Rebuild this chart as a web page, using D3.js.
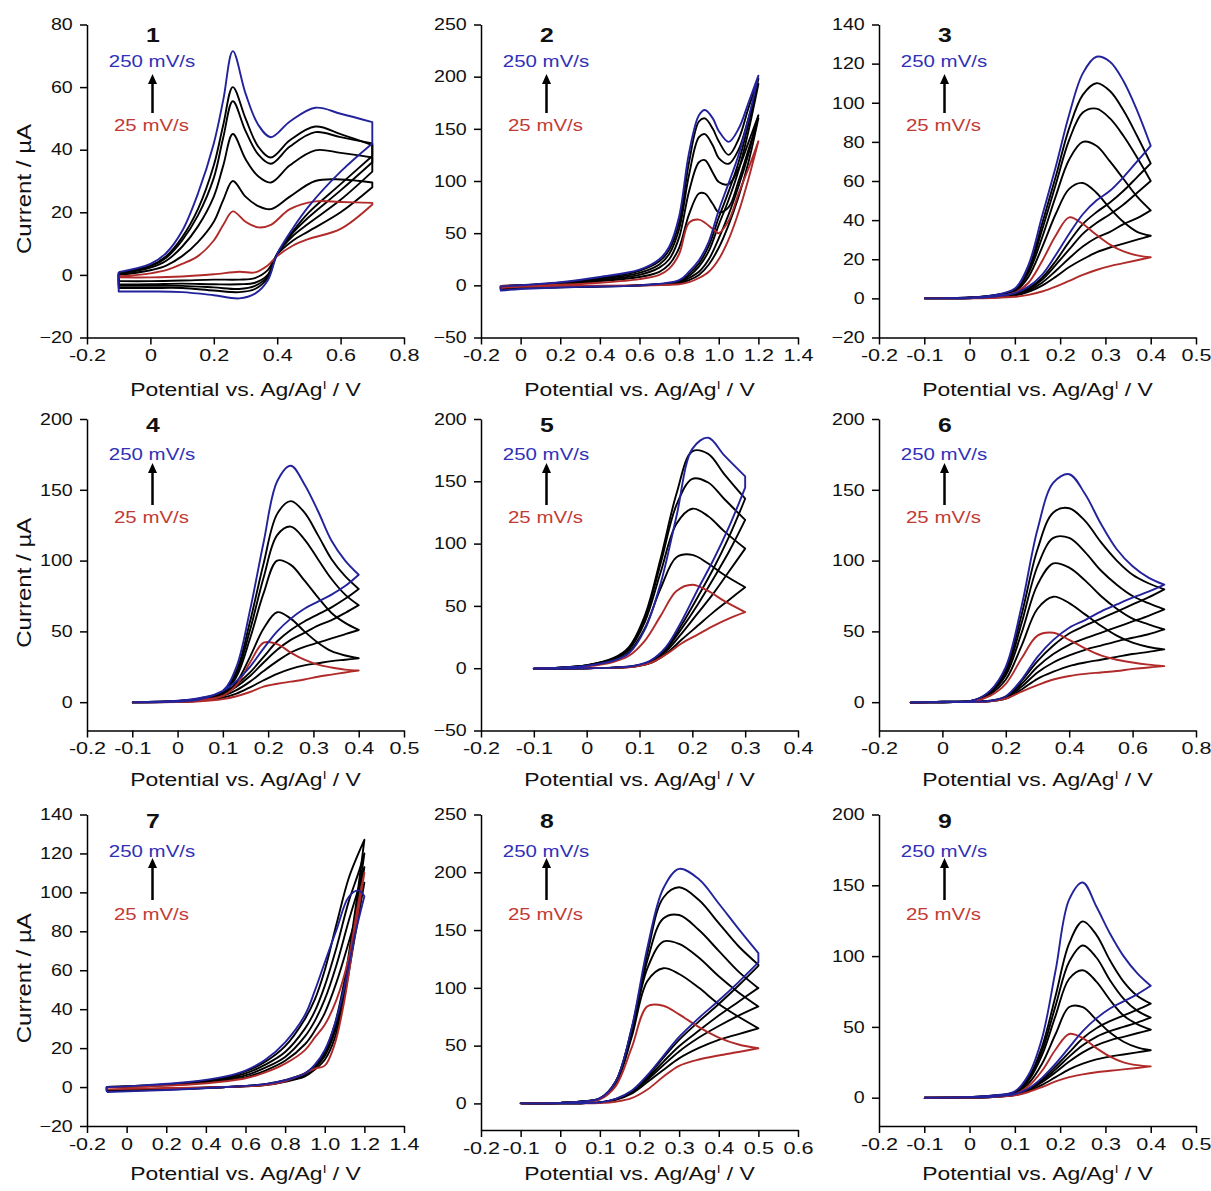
<!DOCTYPE html>
<html>
<head>
<meta charset="utf-8">
<script src="https://cdn.jsdelivr.net/npm/d3@7"></script>
<style>
  body { margin: 0; background: #fff; }
  svg { display: block; }
  text { font-family: "Liberation Sans", Arial, sans-serif; }
</style>
</head>
<body>
<svg id="chart" width="1211" height="1191"></svg>
<script>
// Scan rates (mV/s) - row order of every current table below
const rates = [25, 50, 100, 150, 200, 250];

// Panel 1 - forward / reverse potentials (V) and currents (uA)
const p1Fx = [-0.1, 0, 0.05, 0.1, 0.15, 0.2, 0.23, 0.26, 0.3, 0.34, 0.38, 0.44, 0.52, 0.6, 0.7];
const p1Fwd = [
    [-0.5, 0.5, 1.5, 3.5, 6, 11, 16, 20.3, 17, 15.2, 16, 21, 23.5, 23.3, 23],
    [0, 1.5, 3, 6, 10.5, 17, 24, 30, 25, 22, 21, 25, 30, 30.5, 29.5],
    [0.3, 2.3, 4.5, 9, 15.5, 25, 35, 45, 37, 31.5, 29.5, 35, 39.8, 39, 37.5],
    [0.5, 2.7, 5.5, 11, 19, 31, 44, 55.5, 46, 38.5, 35.5, 41, 45.6, 44, 42],
    [0.7, 3, 6, 12, 21, 35, 48, 60, 50, 41, 37.5, 43, 47.4, 45, 41.5],
    [0.9, 3.5, 7, 14, 26, 42, 56, 71.5, 58, 48, 44, 49, 53.4, 51.5, 48.8]
];
const p1Rx = [0.7, 0.6, 0.5, 0.45, 0.4, 0.37, 0.33, 0.28, 0.2, 0.1, 0, -0.1];
const p1Rev = [
    [22.5, 14.7, 11.5, 9.4, 6, 3, 0.8, 1.0, 0.2, -0.5, -0.8, -0.8],
    [28, 20, 14, 11, 6.5, 1.5, -1, -1.5, -1.5, -1.8, -2, -2],
    [33, 24, 16.5, 12.5, 6.7, 0, -2.5, -3, -3, -2.8, -3, -3],
    [36, 27, 18.5, 13.5, 6.7, -0.5, -3.5, -4.5, -4, -3.5, -3.5, -3.5],
    [38, 29, 20, 14, 6.7, -1, -4.5, -5.5, -5, -4.2, -4.2, -4.2],
    [42, 33, 22, 15, 6.7, -1.8, -6, -7.5, -6.5, -5.5, -5.3, -5.3]
];

// Panel 2
const p2Fx = [-0.1, 0.2, 0.4, 0.6, 0.7, 0.75, 0.8, 0.85, 0.9, 0.93, 0.97, 1.0, 1.05, 1.1, 1.15, 1.2];
const p2Fwd = [
    [-0.5, 0.5, 2.5, 6, 10, 16, 30, 60, 63, 60, 54, 50, 62, 88, 112, 138],
    [-0.5, 1, 4, 8, 13, 20, 36, 68, 88, 88, 78, 70, 75, 100, 130, 160],
    [-0.5, 1.5, 5, 10, 17, 25, 46, 90, 118, 120, 108, 99, 97, 112, 137, 163],
    [-1, 2, 6, 12, 20, 30, 54, 106, 142, 145, 134, 122, 116.5, 130, 160, 193],
    [-1, 2.5, 7, 14, 23, 34, 60, 118, 157, 160, 150, 138, 125, 140, 170, 198],
    [-1, 3, 8, 15, 25, 37, 66, 127, 163, 168, 160, 148, 137.5, 150, 175, 201]
];
const p2Rx = [1.2, 1.15, 1.1, 1.05, 1.0, 0.95, 0.9, 0.85, 0.8, 0.6, 0.3, 0, -0.1];
const p2Rev = [
    [138, 102, 70, 44, 25, 13, 7, 3, 1, 0, -0.5, -1.5, -2.5],
    [160, 118, 85, 58, 36, 20, 10, 5, 2, 0, -1, -2, -3],
    [163, 126, 95, 68, 45, 25, 13, 7, 2.5, 0, -1, -2.3, -3.5],
    [193, 148, 110, 82, 58, 33, 18, 9, 3.5, 0, -1.2, -2.7, -4],
    [198, 155, 118, 90, 65, 38, 21, 11, 4, 0, -1.5, -3, -4.5],
    [201, 160, 125, 98, 72, 42, 24, 13, 5, 0, -1.5, -3.5, -5]
];

// Panel 3
const p3Fx = [-0.1, 0, 0.05, 0.1, 0.13, 0.16, 0.19, 0.22, 0.25, 0.28, 0.31, 0.34, 0.37, 0.4];
const p3Fwd = [
    [0, 0.3, 1, 3, 8, 19, 32, 41.4, 38, 32.5, 27.5, 24, 22, 21],
    [0, 0.4, 1.2, 3.5, 11, 26, 43, 56, 59, 54, 46, 39, 34, 32],
    [0, 0.4, 1.3, 4, 13, 31, 52, 71, 80, 78, 70, 61, 52, 45],
    [0, 0.5, 1.4, 4.2, 14, 35, 58, 81, 95, 97, 92, 83, 72, 60],
    [0, 0.5, 1.5, 4.5, 15, 38, 62, 87, 104, 110, 106, 96, 83, 69],
    [0, 0.5, 1.5, 5, 17, 42, 67, 94, 115, 123.5, 121, 111, 96, 78]
];
const p3Rx = [0.4, 0.37, 0.34, 0.31, 0.28, 0.25, 0.22, 0.19, 0.16, 0.13, 0.1, 0.05, 0, -0.1];
const p3Rev = [
    [21, 19.5, 18, 16.5, 14.5, 12, 9, 6, 3.5, 1.8, 0.8, 0.2, 0, 0],
    [32, 30, 28, 26, 23.5, 20, 16, 11, 6.5, 3.3, 1.5, 0.4, 0.1, 0],
    [45, 41, 38, 34, 31, 26.5, 20.5, 14, 8, 4, 1.8, 0.5, 0.1, 0],
    [60, 54, 48, 43, 38.5, 33, 25, 17, 9.5, 4.7, 2.1, 0.6, 0.2, 0],
    [69, 62, 55, 49, 44, 38, 29, 19, 10.5, 5.2, 2.4, 0.7, 0.2, 0],
    [78, 70, 62, 55, 50, 43, 33, 22, 12, 6, 2.7, 0.8, 0.2, 0]
];

// Panel 4
const p4Fx = [-0.1, 0, 0.05, 0.1, 0.13, 0.16, 0.19, 0.22, 0.25, 0.28, 0.31, 0.34, 0.37, 0.4];
const p4Fwd = [
    [0, 0.5, 1.5, 4.5, 12, 28, 42, 41, 35, 30, 26.5, 24.5, 23, 22.4],
    [0, 0.6, 2, 5.5, 14, 32, 52, 63.5, 59, 50, 42, 36, 33, 31],
    [0, 0.7, 2.3, 6.5, 18, 45, 77, 100, 97, 86, 74, 63, 56, 51],
    [0, 0.8, 2.5, 7, 20, 51, 88, 118, 124, 115, 101, 87, 76, 68.5],
    [0, 0.8, 2.7, 7.5, 22, 57, 98, 133, 142, 134, 118, 101, 89, 80],
    [0, 1, 3, 8, 25, 65, 113, 156, 167, 154, 135, 114, 100, 90]
];
const p4Rx = [0.4, 0.37, 0.34, 0.31, 0.28, 0.25, 0.22, 0.19, 0.16, 0.13, 0.1, 0.05, 0, -0.1];
const p4Rev = [
    [22.4, 21, 19.5, 18, 16, 14.5, 13, 11, 7.2, 4.2, 2.2, 0.6, 0.1, 0],
    [31, 30, 29, 27.5, 26, 23.5, 20, 15.5, 10.5, 6, 3.2, 0.9, 0.2, 0],
    [51, 48, 45, 42, 39, 35, 29, 22, 14.5, 8.5, 4.5, 1.2, 0.3, 0],
    [68.5, 63, 58, 54, 49, 44, 37, 28, 18.5, 11, 5.7, 1.5, 0.4, 0],
    [80, 73, 67, 62, 57, 51, 43, 32, 21, 12.5, 6.5, 1.7, 0.4, 0],
    [90, 82, 76, 71, 66, 59, 50, 38, 25, 15, 8, 2, 0.5, 0]
];

// Panel 5
const p5Fx = [-0.1, -0.05, 0, 0.05, 0.08, 0.11, 0.14, 0.17, 0.2, 0.23, 0.26, 0.3];
const p5Fwd = [
    [0, 0.3, 1.5, 5, 10, 22, 42, 62, 67, 62, 54, 45],
    [0, 0.4, 2, 6, 13, 32, 64, 89, 91, 84, 75, 65],
    [0, 0.5, 2.2, 7, 15, 37, 77, 116, 128, 122, 110, 96],
    [0, 0.5, 2.3, 7.5, 16, 40, 84, 131, 152, 149, 136, 119],
    [0, 0.5, 2.5, 8, 17, 42, 88, 140, 174, 172, 156, 136],
    [0, 0.5, 2, 6, 12, 31, 68, 122, 176, 185, 171, 154]
];
const p5Rx = [0.3, 0.27, 0.24, 0.21, 0.18, 0.15, 0.12, 0.09, 0.05, 0, -0.1];
const p5Rev = [
    [45, 40, 34, 27, 20, 11, 4, 1.2, 0.3, 0, -0.3],
    [65, 55, 45, 34, 23, 11.5, 4, 1.3, 0.3, 0, -0.4],
    [96, 78, 60, 44, 28, 13.5, 4.5, 1.5, 0.4, 0, -0.5],
    [119, 94, 72, 51, 32, 15, 5, 1.7, 0.5, 0, -0.5],
    [136, 106, 80, 57, 35, 16, 5.5, 1.8, 0.5, 0, -0.5],
    [145, 114, 87, 63, 38, 17, 6, 2, 0.5, 0, -0.5]
];

// Panel 6
const p6Fx = [-0.1, 0, 0.1, 0.15, 0.2, 0.25, 0.3, 0.35, 0.4, 0.45, 0.5, 0.55, 0.6, 0.65, 0.7];
const p6Fwd = [
    [0, 0.2, 0.8, 4.5, 13, 31, 47, 49, 44, 38, 33, 30, 28, 26.5, 25.5],
    [0, 0.2, 1, 5.5, 16, 40, 66, 74.5, 70, 62, 54, 47, 42, 39, 37.3],
    [0, 0.3, 1.2, 6.5, 19, 49, 83, 98, 95, 86, 75, 66, 59, 55, 51.4],
    [0, 0.3, 1.3, 7, 21, 56, 96, 116, 116, 106, 93, 83, 75, 70, 65.6],
    [0, 0.3, 1.4, 7.5, 23, 62, 108, 134, 137, 128, 113, 100, 90, 84, 79.7],
    [0, 0.3, 1.5, 8, 25, 68, 122, 155, 161, 147, 126, 108, 96, 88, 83]
];
const p6Rx = [0.7, 0.65, 0.6, 0.55, 0.5, 0.45, 0.4, 0.35, 0.3, 0.25, 0.2, 0.15, 0.1, 0, -0.1];
const p6Rev = [
    [25.5, 24.5, 23.5, 22, 21, 20, 18.5, 16, 12, 7.5, 2.5, 0.6, 0.1, 0, -0.2],
    [37.3, 35.5, 34, 32, 30, 28, 25.5, 21.5, 16.5, 9, 2.5, 0.7, 0.2, 0, -0.2],
    [51.4, 48, 45.5, 43, 40, 37, 33, 28, 21, 11, 3, 0.8, 0.2, 0, -0.3],
    [65.6, 61, 57, 53, 49, 45, 40.5, 34, 25, 13, 3.5, 0.9, 0.3, 0, -0.3],
    [79.7, 74, 69, 64, 59, 54, 48.5, 40, 29, 15, 4, 1, 0.3, 0, -0.3],
    [83, 78, 73.8, 69, 64, 58, 52.6, 44, 32, 16, 4.2, 1, 0.3, 0, -0.3]
];

// Panel 7
const p7Fx = [-0.1, 0.2, 0.5, 0.7, 0.8, 0.9, 0.95, 1.0, 1.05, 1.1, 1.15, 1.2];
const p7Fwd = [
    [-1.2, -0.5, 0, 1, 3, 7, 9.5, 11, 22, 45, 78, 110],
    [-1.5, -0.8, 0, 1, 2.7, 5.5, 9, 14, 25, 47, 76, 105],
    [-1.8, -1, 0, 1.2, 3, 6, 10, 16, 28, 50, 80, 113],
    [-2, -1.2, 0, 1.3, 3.2, 6.5, 10.5, 17, 30, 52, 84, 120],
    [-2.2, -1.3, 0, 1.5, 3.5, 7, 11, 18, 32, 55, 88, 127],
    [-2.5, -1.5, 0, 1.5, 3.5, 7, 11.5, 19, 32, 52, 77, 98]
];
const p7Rx = [1.2, 1.17, 1.12, 1.06, 1.0, 0.95, 0.9, 0.8, 0.7, 0.6, 0.5, 0.3, 0.1, -0.1];
const p7Rev = [
    [110, 95, 66, 45, 32, 25.5, 19, 12, 7.5, 4.5, 3, 1.2, 0.4, 0],
    [105, 92, 74, 54, 38, 29, 22, 13.5, 8.5, 5, 3.5, 1.5, 0.5, 0],
    [113, 102, 85, 63, 45, 34, 26, 15.5, 10, 6, 4, 1.8, 0.6, 0],
    [120, 110, 95, 72, 52, 39, 30, 18, 11.5, 7, 4.5, 2, 0.7, 0],
    [127, 120, 107, 84, 60, 45, 35, 21, 13, 8, 5, 2.2, 0.8, 0],
    [98, 101, 97.5, 81, 64, 49.5, 37, 23, 14, 8.5, 5.5, 2.5, 1, 0]
];

// Panel 8
const p8Fx = [-0.1, 0, 0.05, 0.1, 0.14, 0.18, 0.22, 0.26, 0.3, 0.35, 0.4, 0.45, 0.5];
const p8Fwd = [
    [0, 0.4, 1.2, 3.5, 15, 48, 84, 84.5, 77, 66, 57, 51, 47.7],
    [0, 0.5, 1.4, 4, 17, 57, 106, 117, 112, 100, 86, 75, 65],
    [0, 0.5, 1.5, 4.2, 18, 61, 117, 140, 138, 126, 110, 96, 83.8],
    [0, 0.5, 1.5, 4.3, 19, 63, 124, 160, 163, 150, 132, 114, 99.7],
    [0, 0.5, 1.5, 4.3, 19, 64, 130, 178, 187, 176, 156, 136, 120],
    [0, 0.5, 1.5, 4.3, 19, 65, 135, 186, 203, 194, 173, 151, 130]
];
const p8Rx = [0.5, 0.45, 0.4, 0.35, 0.3, 0.26, 0.22, 0.18, 0.14, 0.1, 0.05, 0, -0.1];
const p8Rev = [
    [47.7, 44.5, 41.5, 38, 32.5, 23, 12, 4.5, 1.5, 0.4, 0.1, 0, 0],
    [65, 60, 55, 48, 39, 29, 18.5, 8.5, 3.1, 0.7, 0.2, 0, 0],
    [84, 76, 67, 57, 45, 33, 20.5, 9.5, 3.4, 0.8, 0.2, 0, 0],
    [100, 88, 76, 63, 49.5, 36, 22, 10, 3.6, 0.8, 0.2, 0, 0],
    [119, 102, 86, 71, 55, 39.5, 23.5, 10.5, 3.8, 0.9, 0.2, 0, 0],
    [122, 105, 89, 74, 57.5, 41, 24.5, 11, 4, 0.9, 0.2, 0, 0]
];

// Panel 9
const p9Fx = [-0.1, 0, 0.05, 0.1, 0.13, 0.16, 0.19, 0.22, 0.25, 0.28, 0.31, 0.34, 0.37, 0.4];
const p9Fwd = [
    [0, 0.3, 0.8, 2.5, 8, 19, 34, 45, 42, 35, 29, 25, 23, 22.1],
    [0, 0.3, 1, 3, 10, 24, 45, 64, 64, 55, 46, 39.5, 35.5, 33.5],
    [0, 0.4, 1.2, 3.5, 12, 30, 58, 84, 90, 82, 69, 58, 52, 48],
    [0, 0.4, 1.3, 3.8, 13, 33, 65, 96, 107.5, 99, 83, 70, 61.5, 56.5],
    [0, 0.5, 1.4, 4, 14, 36, 72, 109, 124.5, 115, 97, 82, 72, 66.4],
    [0, 0.5, 1.5, 4.5, 16, 42, 90, 140, 152, 135, 116, 100, 88, 79]
];
const p9Rx = [0.4, 0.37, 0.34, 0.31, 0.28, 0.25, 0.22, 0.19, 0.16, 0.13, 0.1, 0.05, 0, -0.1];
const p9Rev = [
    [22.1, 21, 20, 19, 18, 16.5, 14.5, 11.5, 7.5, 4, 1.6, 0.4, 0.1, 0],
    [33.5, 32, 30.5, 29, 27, 24, 20, 14.5, 9, 4.5, 1.8, 0.5, 0.1, 0],
    [48, 45.5, 43, 40.5, 37, 32, 25.5, 18, 11, 5.2, 2, 0.5, 0.1, 0],
    [56.5, 53, 50, 47, 43, 37, 29, 20, 12, 5.6, 2.1, 0.6, 0.2, 0],
    [66.4, 62, 58, 54, 49, 42, 32, 22, 13, 6, 2.3, 0.6, 0.2, 0],
    [79, 73, 68, 63, 56, 47, 35.5, 24, 14, 6.5, 2.5, 0.7, 0.2, 0]
];

// Tick labels
const xTicksA = ["-0.2", "0", "0.2", "0.4", "0.6", "0.8"];
const xTicksB = ["-0.2", "0", "0.2", "0.4", "0.6", "0.8", "1.0", "1.2", "1.4"];
const xTicksC = ["-0.2", "-0.1", "0", "0.1", "0.2", "0.3", "0.4", "0.5"];
const xTicksD = ["-0.2", "-0.1", "0", "0.1", "0.2", "0.3", "0.4"];
const xTicksE = ["-0.2", "-0.1", "0", "0.1", "0.2", "0.3", "0.4", "0.5", "0.6"];
const yTicks1 = [-20, 0, 20, 40, 60, 80];
const yTicks2 = [-50, 0, 50, 100, 150, 200, 250];
const yTicks3 = [-20, 0, 20, 40, 60, 80, 100, 120, 140];
const yTicks4 = [0, 50, 100, 150, 200];
const yTicks5 = [-50, 0, 50, 100, 150, 200];
const yTicks8 = [0, 50, 100, 150, 200, 250];

const panels = [
    { n: 1, col: 0, row: 0, fx: p1Fx, fwd: p1Fwd, rx: p1Rx, rev: p1Rev, xTicks: xTicksA, yTicks: yTicks1, yMin: -20 },
    { n: 2, col: 1, row: 0, fx: p2Fx, fwd: p2Fwd, rx: p2Rx, rev: p2Rev, xTicks: xTicksB, yTicks: yTicks2, yMin: -50 },
    { n: 3, col: 2, row: 0, fx: p3Fx, fwd: p3Fwd, rx: p3Rx, rev: p3Rev, xTicks: xTicksC, yTicks: yTicks3, yMin: -20 },
    { n: 4, col: 0, row: 1, fx: p4Fx, fwd: p4Fwd, rx: p4Rx, rev: p4Rev, xTicks: xTicksC, yTicks: yTicks4, yMin: -20 },
    { n: 5, col: 1, row: 1, fx: p5Fx, fwd: p5Fwd, rx: p5Rx, rev: p5Rev, xTicks: xTicksD, yTicks: yTicks5, yMin: -50 },
    { n: 6, col: 2, row: 1, fx: p6Fx, fwd: p6Fwd, rx: p6Rx, rev: p6Rev, xTicks: xTicksA, yTicks: yTicks4, yMin: -20 },
    { n: 7, col: 0, row: 2, fx: p7Fx, fwd: p7Fwd, rx: p7Rx, rev: p7Rev, xTicks: xTicksB, yTicks: yTicks3, yMin: -20 },
    { n: 8, col: 1, row: 2, fx: p8Fx, fwd: p8Fwd, rx: p8Rx, rev: p8Rev, xTicks: xTicksE, yTicks: yTicks8, yMin: -23, bottom: 1130 },
    { n: 9, col: 2, row: 2, fx: p9Fx, fwd: p9Fwd, rx: p9Rx, rev: p9Rev, xTicks: xTicksC, yTicks: yTicks4, yMin: -20 }
];

// Layout
const colLeft = [87, 481, 879];
const rowTop = [24.5, 419, 814.5];
const rowBottom = [337.5, 730.5, 1126];
const plotW = 317;
const titleY = [396, 786, 1180];
const numY = [42, 432, 828];
const fastY = [67, 460, 857];
const slowY = [131, 523, 920];
const arrowBase = [113, 505, 900];
const arrowTip = [74, 463, 858];

const SX_X = 1.31;        // the figure is stretched horizontally
const SX_Y = 1.19;
const SX = 1.24;
const BLUE = "#22229c", RED = "#b02a2a";
const BLUE_TXT = "#3030b8", RED_TXT = "#c23a35";

const svg = d3.select("#chart");

function curveColor(i) {
    if (i === 0) return RED;
    if (i === rates.length - 1) return BLUE;
    return "#000";
}

function addText(parent, x, y, str, size, opts = {}) {
    return parent.append("text")
        .attr("transform", `translate(${x},${y}) scale(${SX},1)`)
        .attr("font-size", size)
        .attr("text-anchor", opts.anchor || "middle")
        .attr("font-weight", opts.weight || "normal")
        .attr("fill", opts.fill || "#111")
        .text(str);
}

panels.forEach(p => {
    const left = colLeft[p.col];
    const top = rowTop[p.row];
    const bottom = p.bottom || rowBottom[p.row];
    const xVals = p.xTicks.map(Number);

    const x = d3.scaleLinear().domain([xVals[0], xVals[xVals.length - 1]]).range([left, left + plotW]);
    const y = d3.scaleLinear().domain([p.yMin, d3.max(p.yTicks)]).range([bottom, top]);

    const g = svg.append("g");

    // Voltammograms: smooth forward and reverse sweeps joined by straight steps
    const line = d3.line()
        .x(d => x(d[0]))
        .y(d => y(d[1]))
        .curve(d3.curveCatmullRom.alpha(0.5));

    [1, 2, 3, 4, 0, 5].forEach(i => {
        const fwdPts = p.fx.map((v, j) => [v, p.fwd[i][j]]);
        const revPts = p.rx.map((v, j) => [v, p.rev[i][j]]);
        const d = line(fwdPts) + "L" + line(revPts).slice(1) +
            `L${x(fwdPts[0][0])},${y(fwdPts[0][1])}`;

        g.append("path")
            .attr("d", d)
            .attr("fill", "none")
            .attr("stroke", curveColor(i))
            .attr("stroke-width", 1.9)
            .attr("stroke-linejoin", "round");
    });

    // Axes
    const xAxis = d3.axisBottom(x)
        .tickValues(xVals)
        .tickFormat((d, i) => p.xTicks[i])
        .tickSize(7)
        .tickSizeOuter(0)
        .tickPadding(5);
    const yAxis = d3.axisLeft(y)
        .tickValues(p.yTicks)
        .tickSize(7)
        .tickSizeOuter(0)
        .tickPadding(5);

    const gx = g.append("g").attr("transform", `translate(0,${bottom})`).call(xAxis);
    const gy = g.append("g").attr("transform", `translate(${left},0)`).call(yAxis);

    [[gx, SX_X], [gy, SX_Y]].forEach(([ax, s]) => {
        ax.attr("font-family", null).attr("font-size", null);
        ax.select(".domain").attr("stroke", "#000").attr("stroke-width", 1.5);
        ax.selectAll(".tick line").attr("stroke", "#000").attr("stroke-width", 1.5);
        ax.selectAll(".tick text")
            .attr("font-size", 16.5)
            .attr("fill", "#111")
            .attr("transform", `scale(${s},1)`);
    });

    // X axis title with superscript I
    const tx = g.append("text")
        .attr("transform", `translate(${left + plotW / 2},${titleY[p.row]}) scale(${SX},1)`)
        .attr("text-anchor", "middle")
        .attr("font-size", 18.5)
        .attr("fill", "#111");
    tx.append("tspan").text("Potential vs. Ag/Ag");
    tx.append("tspan").attr("dy", -7).attr("font-size", 11).text("I");
    tx.append("tspan").attr("dy", 7).text(" / V");

    // Y axis title, left column only
    if (p.col === 0) {
        g.append("text")
            .attr("transform", `translate(31,${(top + bottom) / 2 + 8}) rotate(-90) scale(1.3,1.12)`)
            .attr("text-anchor", "middle")
            .attr("font-size", 18.5)
            .attr("fill", "#111")
            .text("Current / \u00b5A");
    }

    // Panel number and scan-rate annotation
    addText(g, left + 66, numY[p.row], String(p.n), 20, { weight: "bold" });
    addText(g, left + 65, fastY[p.row], `${rates[rates.length - 1]} mV/s`, 16.5, { fill: BLUE_TXT });
    addText(g, left + 64.5, slowY[p.row], `${rates[0]} mV/s`, 16.5, { fill: RED_TXT });

    const ax0 = left + 65.5;
    g.append("line")
        .attr("x1", ax0).attr("x2", ax0)
        .attr("y1", arrowBase[p.row]).attr("y2", arrowTip[p.row] + 8)
        .attr("stroke", "#000").attr("stroke-width", 2.5);
    g.append("path")
        .attr("d", `M${ax0},${arrowTip[p.row]} L${ax0 - 4.5},${arrowTip[p.row] + 10} L${ax0 + 4.5},${arrowTip[p.row] + 10} Z`)
        .attr("fill", "#000");
});
</script>
</body>
</html>
